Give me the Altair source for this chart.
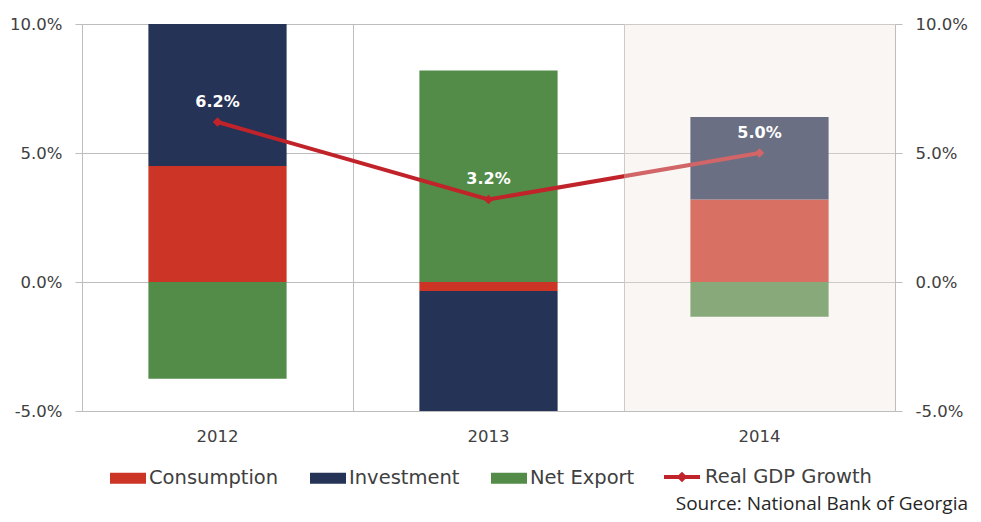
import altair as alt
import pandas as pd

# ---- data (values in %) ----
years = ["2012", "2013", "2014"]
series = ["Consumption", "Investment", "Net Export"]
consumption = [4.5, -0.35, 3.2]
investment = [5.5, -4.65, 3.2]
net_export = [-3.75, 8.2, -1.35]
gdp_growth = [6.2, 3.2, 5.0]
gdp_labels = ["6.2%", "3.2%", "5.0%"]
line_name = "Real GDP Growth"
forecast_year = "2014"
y_ticks = [-5, 0, 5, 10]
source_text = "Source: National Bank of Georgia"

# ---- styling ----
bar_colors = ["#cc3526", "#253356", "#528c48"]
line_color = "#c1232b"
grid_color = "#bdbdbd"
text_color = "#404040"
font = "DejaVu Sans"

rows = []
for vals, name in zip([consumption, investment, net_export], series):
    for yr, v in zip(years, vals):
        rows.append({"year": yr, "series": name, "value": v, "order": series.index(name)})
bars_df = pd.DataFrame(rows)
line_df = pd.DataFrame({"year": years, "gdp": gdp_growth, "label": gdp_labels,
                        "series": [line_name] * len(years)})
overlay_df = pd.DataFrame({"year": [forecast_year]})

x_scale = alt.Scale(domain=years, paddingInner=0, paddingOuter=0)
y_scale = alt.Scale(domain=[y_ticks[0], y_ticks[-1]], nice=False, zero=False)

label_expr = "(datum.value < 0 ? '-' : '') + format(abs(datum.value), '.1f') + '%'"

x_axis = alt.Axis(title=None, grid=True, bandPosition=0, gridColor=grid_color,
                  ticks=False, domain=False, labelAngle=0, labelPadding=17,
                  labelFont=font, labelFontSize=16.5, labelColor=text_color)
x_enc = alt.X("year:N", scale=x_scale, sort=years, axis=x_axis)


def y_axis(orient):
    return alt.Axis(
        orient=orient, values=y_ticks, labelExpr=label_expr, title=None,
        grid=(orient == "left"), gridColor=grid_color, gridWidth=1,
        domain=True, domainColor=grid_color, ticks=True, tickColor=grid_color,
        tickSize=7, labelPadding=13, labelFont=font, labelFontSize=16.5,
        labelColor=text_color,
    )


def legend(x, y, shape, stroke_width):
    return alt.Legend(
        title=None, orient="none", legendX=x, legendY=y,
        direction="horizontal", symbolSize=1296, symbolType=shape, labelOffset=3,
        columnPadding=31, padding=0, labelFont=font, labelFontSize=19.5,
        labelColor=text_color, symbolStrokeWidth=stroke_width, labelLimit=400,
    )


bars = alt.Chart(bars_df).mark_bar(width={"band": 0.51}, clip=True).encode(
    x=x_enc,
    y=alt.Y("value:Q", stack="zero", scale=y_scale, axis=y_axis("left")),
    color=alt.Color("series:N", scale=alt.Scale(domain=series, range=bar_colors),
                    legend=legend(28, 436, "M-1,-0.3H1V0.3H-1Z", 0)),
    order=alt.Order("order:Q"),
)

line = alt.Chart(line_df).mark_line(strokeWidth=4).encode(
    x=x_enc,
    y=alt.Y("gdp:Q", scale=y_scale, axis=y_axis("right")),
    color=alt.Color("series:N", scale=alt.Scale(domain=[line_name], range=[line_color]),
                    legend=legend(580, 433, "M-1,0H1M-0.14,0L0,-0.14L0.14,0L0,0.14Z", 4)),
)

points = alt.Chart(line_df).mark_point(shape="diamond", filled=True, size=90,
                                      color=line_color, opacity=1).encode(
    x=x_enc,
    y=alt.Y("gdp:Q", scale=y_scale, axis=None),
)

overlay = alt.Chart(overlay_df).mark_rect(color="#f0e4db", opacity=0.34).encode(
    x=x_enc,
    y=alt.YDatum(y_ticks[-1], type="quantitative", scale=y_scale, axis=None),
    y2=alt.Y2Datum(y_ticks[0]),
)

labels = alt.Chart(line_df).mark_text(color="white", fontWeight="bold", fontSize=16,
                                      font=font, dy=-15, baseline="alphabetic").encode(
    x=x_enc,
    y=alt.Y("gdp:Q", scale=y_scale, axis=None),
    text="label:N",
)

chart = alt.layer(bars, line, points, overlay, labels).resolve_scale(
    y="independent", color="independent"
).properties(
    width=813, height=387,
    padding={"left": 74, "top": 16, "right": 78, "bottom": 103},
    autosize=alt.AutoSizeParams(type="none"),
    title=alt.Title(source_text, orient="bottom", anchor="end", frame="group",
                    font="Open Sans", fontSize=19, fontWeight="normal",
                    color="#262626", dx=73, offset=7),
).configure_view(stroke=None)

chart.save("out.html", embed_options={"renderer": "svg", "actions": False})
